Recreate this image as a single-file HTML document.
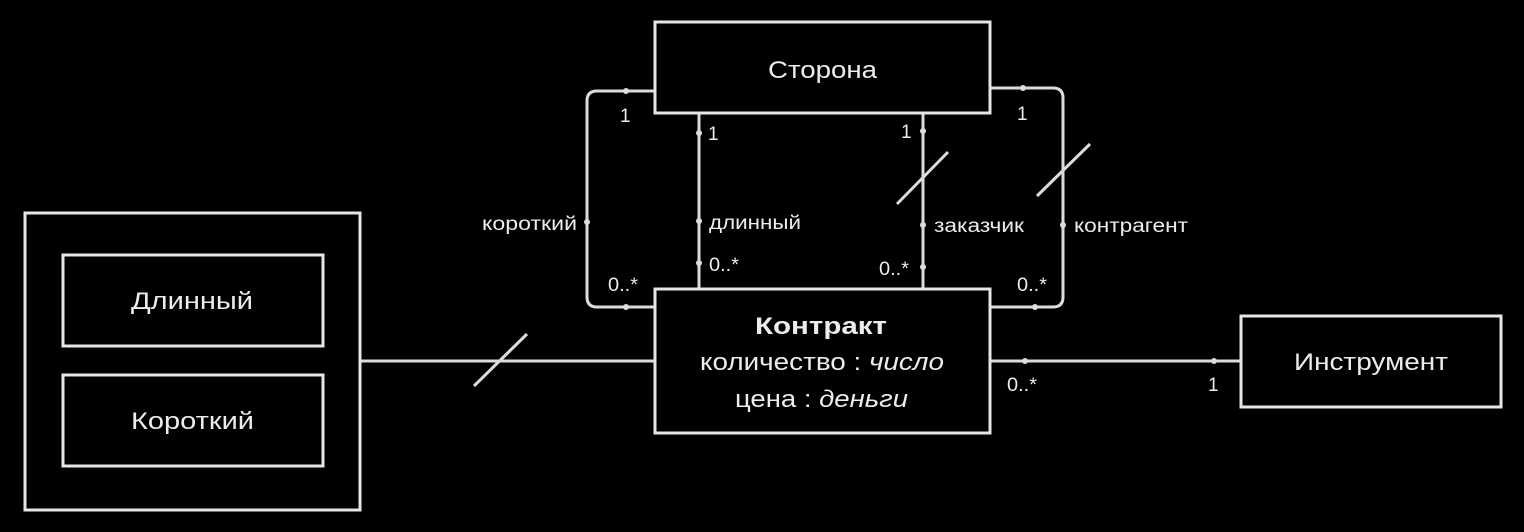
<!DOCTYPE html>
<html><head><meta charset="utf-8"><style>
html,body{margin:0;padding:0;background:#000;}
svg{display:block;}
text{font-family:"Liberation Sans","DejaVu Sans",sans-serif;fill:#ececec;}
.l{stroke:#dcdcdc;stroke-width:3;fill:none;}
.b{stroke:#e6e6e6;stroke-width:3;fill:#000;}
.d{fill:#dcdcdc;}
.s{font-size:19px;}
.m{font-size:24px;}
</style></head><body>
<svg width="1524" height="532" viewBox="0 0 1524 532">
<path class="l" d="M654 91 H597 Q587 91 587 101 V297 Q587 307 597 307 H654"/>
<path class="l" d="M990 88 H1053 Q1063 88 1063 98 V297 Q1063 307 1053 307 H990"/>
<line class="l" x1="699" y1="113" x2="699" y2="288"/>
<line class="l" x1="923" y1="113" x2="923" y2="288"/>
<line class="l" x1="897" y1="204" x2="948" y2="152"/>
<line class="l" x1="1037" y1="196" x2="1090" y2="144"/>
<line class="l" x1="360" y1="361" x2="654" y2="361"/>
<line class="l" x1="474" y1="386" x2="527" y2="334"/>
<line class="l" x1="990" y1="361" x2="1240" y2="361"/>
<g>
<circle class="d" cx="626" cy="91" r="3"/><circle class="d" cx="587" cy="222" r="3"/><circle class="d" cx="626" cy="307" r="3"/>
<circle class="d" cx="1023" cy="88" r="3"/><circle class="d" cx="1063" cy="225" r="3"/><circle class="d" cx="1035" cy="307" r="3"/>
<circle class="d" cx="699" cy="133" r="3"/><circle class="d" cx="699" cy="221" r="3"/><circle class="d" cx="699" cy="263" r="3"/>
<circle class="d" cx="923" cy="131" r="3"/><circle class="d" cx="923" cy="225" r="3"/><circle class="d" cx="923" cy="267" r="3"/>
<circle class="d" cx="1025" cy="361" r="3"/><circle class="d" cx="1214" cy="361" r="3"/>
</g>
<rect class="b" x="655" y="22" width="335" height="91"/>
<text class="m" x="768" y="78" textLength="109" lengthAdjust="spacingAndGlyphs">Сторона</text>
<rect class="b" x="655" y="289" width="335" height="144"/>
<text class="m" x="755" y="334" textLength="132" lengthAdjust="spacingAndGlyphs" font-weight="bold">Контракт</text>
<text class="m" x="700" y="370" textLength="244" lengthAdjust="spacingAndGlyphs">количество : <tspan font-style="italic">число</tspan></text>
<text class="m" x="735" y="407" textLength="173" lengthAdjust="spacingAndGlyphs">цена : <tspan font-style="italic">деньги</tspan></text>
<rect class="b" x="1241" y="316" width="260" height="91"/>
<text class="m" x="1294" y="370" textLength="154" lengthAdjust="spacingAndGlyphs">Инструмент</text>
<rect class="b" x="25" y="213" width="335" height="297"/>
<rect class="b" x="63" y="255" width="260" height="91"/>
<text class="m" x="131" y="309" textLength="122" lengthAdjust="spacingAndGlyphs">Длинный</text>
<rect class="b" x="63" y="375" width="260" height="91"/>
<text class="m" x="131" y="429" textLength="123" lengthAdjust="spacingAndGlyphs">Короткий</text>
<g>
<text class="s" x="620" y="122">1</text>
<text class="s" x="708" y="140">1</text>
<text class="s" x="901" y="138">1</text>
<text class="s" x="1017" y="120">1</text>
<text class="s" x="608" y="291" textLength="30" lengthAdjust="spacingAndGlyphs">0..*</text>
<text class="s" x="709" y="271" textLength="30" lengthAdjust="spacingAndGlyphs">0..*</text>
<text class="s" x="879" y="275" textLength="30" lengthAdjust="spacingAndGlyphs">0..*</text>
<text class="s" x="1017" y="291" textLength="30" lengthAdjust="spacingAndGlyphs">0..*</text>
<text class="s" x="1007" y="391" textLength="30" lengthAdjust="spacingAndGlyphs">0..*</text>
<text class="s" x="1208" y="391">1</text>
</g>
<text class="s" x="482" y="230" textLength="95" lengthAdjust="spacingAndGlyphs">короткий</text>
<text class="s" x="709" y="229" textLength="92" lengthAdjust="spacingAndGlyphs">длинный</text>
<text class="s" x="934" y="232" textLength="90" lengthAdjust="spacingAndGlyphs">заказчик</text>
<text class="s" x="1074" y="232" textLength="114" lengthAdjust="spacingAndGlyphs">контрагент</text>
</svg>
</body></html>
